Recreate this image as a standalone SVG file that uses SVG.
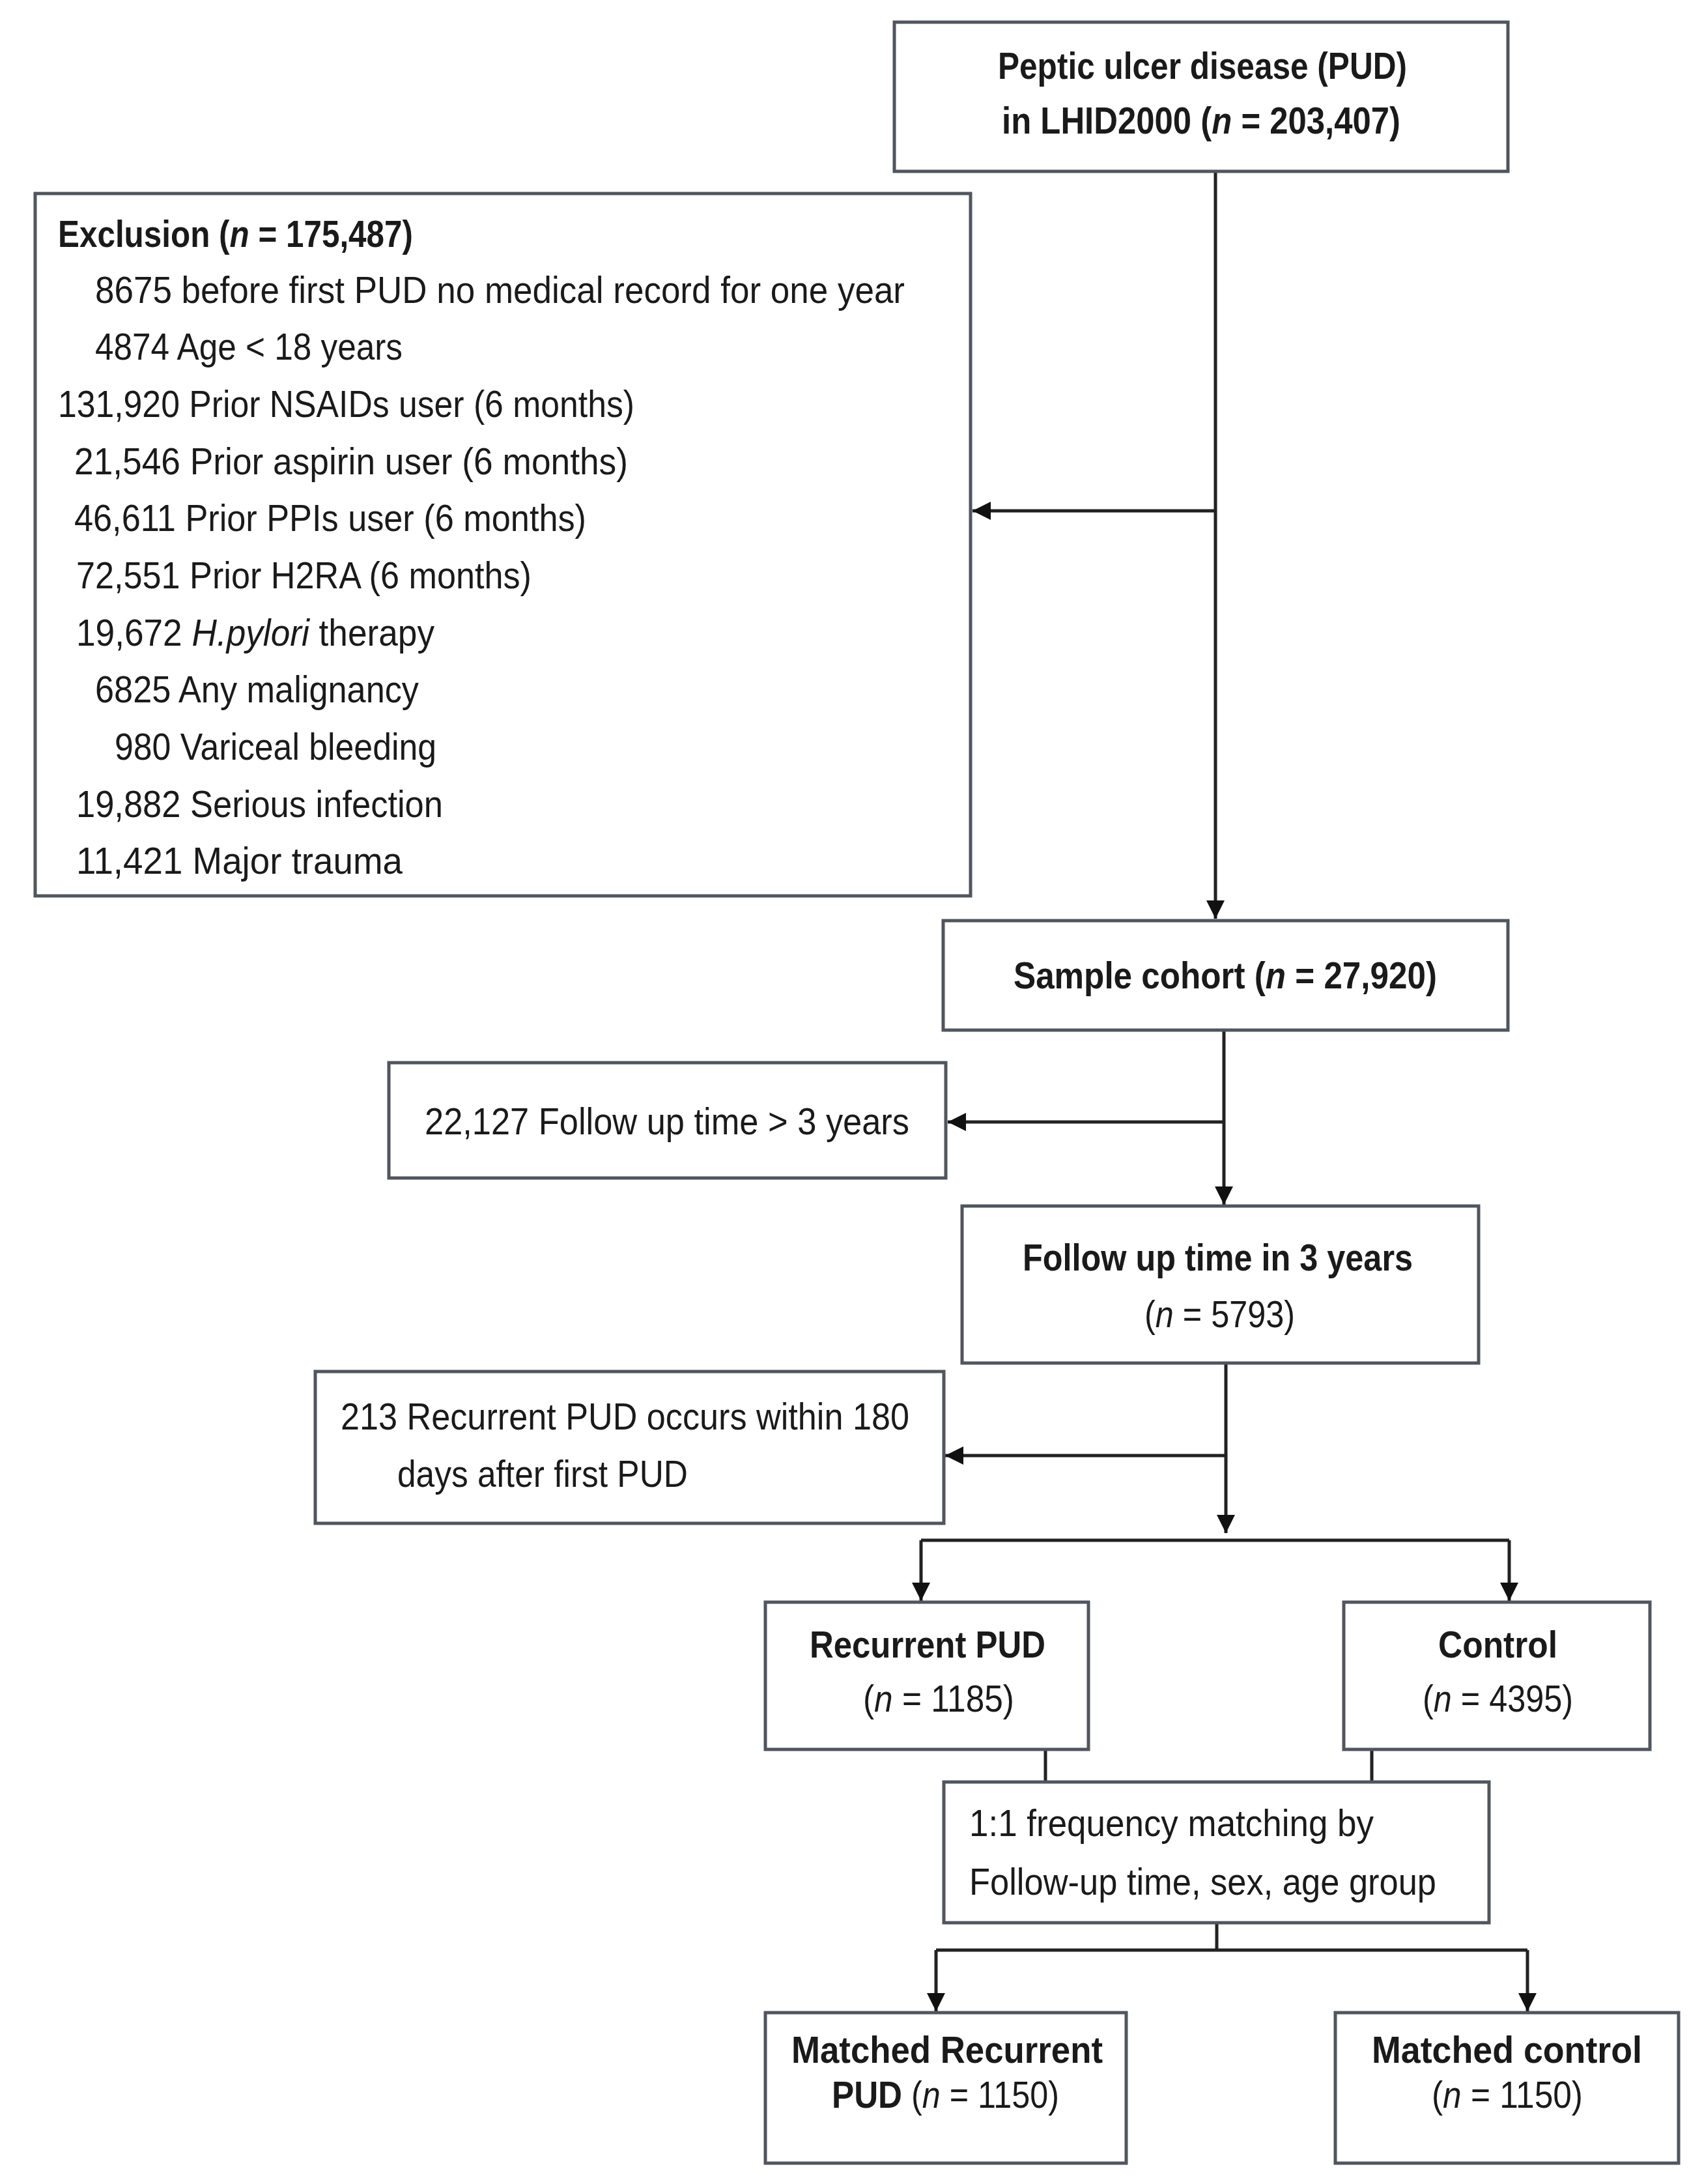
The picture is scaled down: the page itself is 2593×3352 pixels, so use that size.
<svg xmlns="http://www.w3.org/2000/svg" width="2593" height="3352" viewBox="0 0 2593 3352">
<style>
  .box { fill: #ffffff; stroke: #50555e; stroke-width: 5; }
  .t { font-family: "Liberation Sans", Arial, sans-serif; font-size: 57px; fill: #1a1a1a; }
  .b { font-weight: bold; font-size: 58px; }
  .i { font-style: italic; }
  .c { fill: none; stroke: #222222; stroke-width: 5; }
</style>
<defs>
  <marker id="ah" markerUnits="userSpaceOnUse" markerWidth="30" markerHeight="30" refX="28" refY="14" orient="auto">
    <path d="M0,0 L28,14 L0,28 Z" fill="#111111"/>
  </marker>
</defs>
<rect x="0" y="0" width="2593" height="3352" fill="#ffffff"/>

<g id="connectors">
  <path class="c" d="M1866,263 V1410" marker-end="url(#ah)"/>
  <path class="c" d="M1866,784 H1493" marker-end="url(#ah)"/>
  <path class="c" d="M1879,1581 V1849" marker-end="url(#ah)"/>
  <path class="c" d="M1879,1722 H1455" marker-end="url(#ah)"/>
  <path class="c" d="M1882,2093 V2353" marker-end="url(#ah)"/>
  <path class="c" d="M1882,2234 H1451" marker-end="url(#ah)"/>
  <path class="c" d="M1414,2364 H2317"/>
  <path class="c" d="M1414,2364 V2457" marker-end="url(#ah)"/>
  <path class="c" d="M2317,2364 V2457" marker-end="url(#ah)"/>
  <path class="c" d="M1605,2685 V2735"/>
  <path class="c" d="M2106,2685 V2735"/>
  <path class="c" d="M1868,2951 V2993"/>
  <path class="c" d="M1437,2993 H2345"/>
  <path class="c" d="M1437,2993 V3087" marker-end="url(#ah)"/>
  <path class="c" d="M2345,2993 V3087" marker-end="url(#ah)"/>
</g>

<g id="node-pud">
  <rect class="box" x="1373" y="34" width="942" height="229"/>
  <text class="t b" x="1532" y="121" textLength="628" lengthAdjust="spacingAndGlyphs">Peptic ulcer disease (PUD)</text>
  <text class="t b" x="1538" y="205" textLength="612" lengthAdjust="spacingAndGlyphs">in LHID2000 (<tspan class="i">n</tspan> = 203,407)</text>
</g>

<g id="node-exclusion">
  <rect class="box" x="54" y="297" width="1436" height="1078"/>
  <text class="t b" x="89" y="379" textLength="545" lengthAdjust="spacingAndGlyphs">Exclusion (<tspan class="i">n</tspan> = 175,487)</text>
  <text class="t" x="146" y="465" textLength="1243" lengthAdjust="spacingAndGlyphs">8675 before first PUD no medical record for one year</text>
  <text class="t" x="146" y="552" textLength="472" lengthAdjust="spacingAndGlyphs">4874 Age &lt; 18 years</text>
  <text class="t" x="89" y="640" textLength="885" lengthAdjust="spacingAndGlyphs">131,920 Prior NSAIDs user (6 months)</text>
  <text class="t" x="114" y="728" textLength="850" lengthAdjust="spacingAndGlyphs">21,546 Prior aspirin user (6 months)</text>
  <text class="t" x="114" y="815" textLength="786" lengthAdjust="spacingAndGlyphs">46,611 Prior PPIs user (6 months)</text>
  <text class="t" x="117" y="903" textLength="699" lengthAdjust="spacingAndGlyphs">72,551 Prior H2RA (6 months)</text>
  <text class="t" x="117" y="991" textLength="550" lengthAdjust="spacingAndGlyphs">19,672 <tspan class="i">H.pylori</tspan> therapy</text>
  <text class="t" x="146" y="1078" textLength="497" lengthAdjust="spacingAndGlyphs">6825 Any malignancy</text>
  <text class="t" x="176" y="1166" textLength="494" lengthAdjust="spacingAndGlyphs">980 Variceal bleeding</text>
  <text class="t" x="117" y="1254" textLength="563" lengthAdjust="spacingAndGlyphs">19,882 Serious infection</text>
  <text class="t" x="117" y="1341" textLength="501" lengthAdjust="spacingAndGlyphs">11,421 Major trauma</text>
</g>

<g id="node-sample">
  <rect class="box" x="1448" y="1413" width="867" height="168"/>
  <text class="t b" x="1556" y="1517" textLength="650" lengthAdjust="spacingAndGlyphs">Sample cohort (<tspan class="i">n</tspan> = 27,920)</text>
</g>

<g id="node-followup-excl">
  <rect class="box" x="597" y="1631" width="855" height="177"/>
  <text class="t" x="652" y="1741" textLength="744" lengthAdjust="spacingAndGlyphs">22,127 Follow up time &gt; 3 years</text>
</g>

<g id="node-followup">
  <rect class="box" x="1477" y="1851" width="793" height="241"/>
  <text class="t b" x="1570" y="1950" textLength="599" lengthAdjust="spacingAndGlyphs">Follow up time in 3 years</text>
  <text class="t" x="1757" y="2037" textLength="231" lengthAdjust="spacingAndGlyphs">(<tspan class="i">n</tspan> = 5793)</text>
</g>

<g id="node-recurrent-excl">
  <rect class="box" x="484" y="2105" width="965" height="233"/>
  <text class="t" x="523" y="2194" textLength="873" lengthAdjust="spacingAndGlyphs">213 Recurrent PUD occurs within 180</text>
  <text class="t" x="610" y="2282" textLength="446" lengthAdjust="spacingAndGlyphs">days after first PUD</text>
</g>

<g id="node-recurrent">
  <rect class="box" x="1175" y="2459" width="496" height="226"/>
  <text class="t b" x="1243" y="2544" textLength="362" lengthAdjust="spacingAndGlyphs">Recurrent PUD</text>
  <text class="t" x="1325" y="2627" textLength="232" lengthAdjust="spacingAndGlyphs">(<tspan class="i">n</tspan> = 1185)</text>
</g>

<g id="node-control">
  <rect class="box" x="2063" y="2459" width="470" height="226"/>
  <text class="t b" x="2208" y="2544" textLength="183" lengthAdjust="spacingAndGlyphs">Control</text>
  <text class="t" x="2184" y="2627" textLength="231" lengthAdjust="spacingAndGlyphs">(<tspan class="i">n</tspan> = 4395)</text>
</g>

<g id="node-matching">
  <rect class="box" x="1449" y="2735" width="837" height="216"/>
  <text class="t" x="1488" y="2818" textLength="621" lengthAdjust="spacingAndGlyphs">1:1 frequency matching by</text>
  <text class="t" x="1488" y="2908" textLength="717" lengthAdjust="spacingAndGlyphs">Follow-up time, sex, age group</text>
</g>

<g id="node-matched-recurrent">
  <rect class="box" x="1175" y="3089" width="554" height="231"/>
  <text class="t b" x="1215" y="3166" textLength="478" lengthAdjust="spacingAndGlyphs">Matched Recurrent</text>
  <text class="t" x="1277" y="3235" textLength="349" lengthAdjust="spacingAndGlyphs"><tspan class="b">PUD</tspan> (<tspan class="i">n</tspan> = 1150)</text>
</g>

<g id="node-matched-control">
  <rect class="box" x="2050" y="3089" width="527" height="231"/>
  <text class="t b" x="2106" y="3166" textLength="415" lengthAdjust="spacingAndGlyphs">Matched control</text>
  <text class="t" x="2198" y="3235" textLength="232" lengthAdjust="spacingAndGlyphs">(<tspan class="i">n</tspan> = 1150)</text>
</g>
</svg>
